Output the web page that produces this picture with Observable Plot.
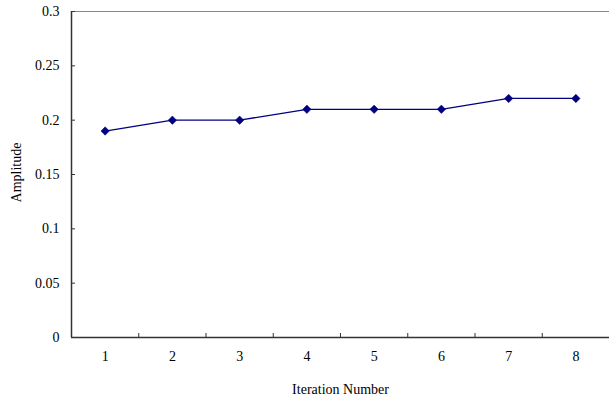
<!DOCTYPE html>
<html>
<head>
<meta charset="utf-8">
<script src="https://cdn.jsdelivr.net/npm/d3@7"></script>
<script src="https://cdn.jsdelivr.net/npm/@observablehq/plot@0.6"></script>
<style>
  html, body { margin: 0; padding: 0; background: #fff; }
  svg text { font-family: 'Liberation Serif', 'Times New Roman', serif !important; }
</style>
</head>
<body>
<div id="chart"></div>
<script>
const iterations = [1, 2, 3, 4, 5, 6, 7, 8];
const amplitude = [0.19, 0.20, 0.20, 0.21, 0.21, 0.21, 0.22, 0.22];
const yTicks = [0, 0.05, 0.1, 0.15, 0.2, 0.25, 0.3];
const yTickLabels = ["0", "0.05", "0.1", "0.15", "0.2", "0.25", "0.3"];
const xBoundaries = [1.5, 2.5, 3.5, 4.5, 5.5, 6.5, 7.5];

const data = iterations.map((it, i) => ({iteration: it, amplitude: amplitude[i]}));
const navy = "#000080";
const serif = "'Liberation Serif', 'Times New Roman', serif";

const chart = Plot.plot({
  width: 609,
  height: 400,
  marginLeft: 71,
  marginRight: 0,
  marginTop: 11,
  marginBottom: 63,
  style: {fontFamily: serif, fontSize: "14px", color: "#000", background: "#fff"},
  x: {domain: [0.5, 8.5]},
  y: {domain: [0, 0.3]},
  marks: [
    Plot.ruleY([0.3], {stroke: "#888", strokeWidth: 1}),
    Plot.ruleY([0], {stroke: "#333", strokeWidth: 1.5}),
    Plot.ruleX([0.5], {stroke: "#333", strokeWidth: 1.5}),
    Plot.axisY({ticks: yTicks, tickSize: 0, tickPadding: 12, tickFormat: d => yTickLabels[yTicks.indexOf(d)], label: null, fontSize: 14, fontFamily: serif}),
    Plot.axisY({ticks: yTicks, tickSize: 4, insetLeft: 4, text: null, label: null, stroke: "#333"}),
    Plot.axisX({ticks: iterations, tickSize: 0, tickPadding: 14, tickFormat: d => String(d), label: null, fontSize: 14, fontFamily: serif}),
    Plot.axisX({ticks: xBoundaries, tickSize: 4, insetBottom: 4, text: null, label: null, stroke: "#333"}),
    Plot.text(["Amplitude"], {frameAnchor: "left", textAnchor: "middle", lineAnchor: "middle", dx: -55, dy: -2, rotate: -90, fontSize: 14, fontFamily: serif}),
    Plot.text(["Iteration Number"], {frameAnchor: "bottom", lineAnchor: "middle", dy: 52, fontSize: 14, fontFamily: serif}),
    Plot.line(data, {x: "iteration", y: "amplitude", stroke: navy, strokeWidth: 1.3}),
    Plot.dot(data, {x: "iteration", y: "amplitude", symbol: "diamond2", r: 3.8, fill: navy, stroke: navy, strokeWidth: 0.5})
  ]
});
document.getElementById("chart").appendChild(chart);
</script>
</body>
</html>
